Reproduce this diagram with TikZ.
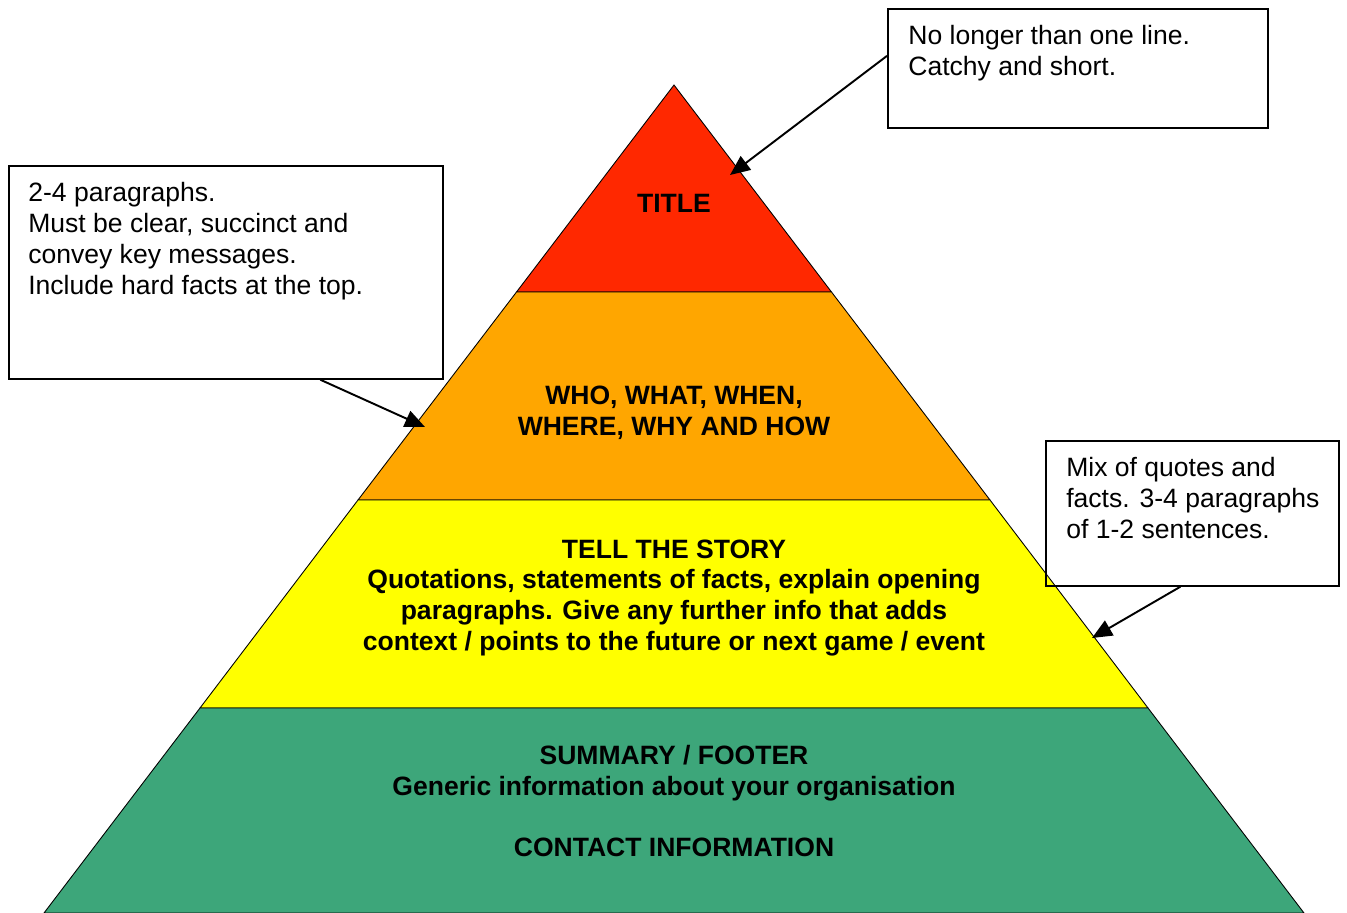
\documentclass[tikz,border=0pt]{standalone}
\usepackage{fontspec}
\setmainfont{Liberation Sans}
\usetikzlibrary{arrows.meta}
\usetikzlibrary{positioning}

\definecolor{titlered}{RGB}{255,40,0}
\definecolor{whoorange}{RGB}{255,166,0}
\definecolor{storyyellow}{RGB}{255,255,0}
\definecolor{footergreen}{RGB}{61,166,122}

\begin{document}
\begin{tikzpicture}[x=0.02cm, y=-0.02cm,
        layer/.style={draw=black, line width=0.5pt},
        notebox/.style={draw, line width=1pt, anchor=north west, inner sep=0pt},
        notetext/.style={anchor=north west, inner sep=0pt, align=left,
            font=\fontsize{15.1}{17.6}\selectfont},
        layertext/.style={align=center, inner sep=0pt,
            font=\fontsize{15.1}{17.6}\selectfont\bfseries},
        pointer/.style={-{Triangle[length=0.4cm, width=0.34cm]}, line width=1.1pt}]
            \useasboundingbox (0, 0) rectangle (1347, 913);

            %The four layers of the pyramid, top to bottom.
            \filldraw[layer, fill=titlered] (674, 85) -- (516.5, 292) -- (831.5, 292) -- cycle;
            \filldraw[layer, fill=whoorange] (516.5, 292) -- (358, 500) -- (990, 500) -- (831.5, 292) -- cycle;
            \filldraw[layer, fill=storyyellow] (358, 500) -- (200, 708) -- (1148, 708) -- (990, 500) -- cycle;
            \filldraw[layer, fill=footergreen] (200, 708) -- (44, 913) -- (1304, 913) -- (1148, 708) -- cycle;

            \node (title) at (674, 203) [layertext] {TITLE};
            \node (who) at (674, 413) [layertext] {WHO, WHAT, WHEN,\\WHERE, WHY AND HOW};
            \node (story) at (674, 598) [layertext] {TELL THE STORY\\Quotations, statements of facts, explain opening\\paragraphs. Give any further info that adds\\context / points to the future or next game / event};
            \node (footer) at (674, 801) [layertext] {SUMMARY / FOOTER\\Generic information about your organisation\\[17.6pt]CONTACT INFORMATION};

            %Notes beside the pyramid.
            \node (titlenote) at (887, 8) [notebox, minimum width=7.6cm, minimum height=2.38cm] {};
            \node (whonote) at (8, 165) [notebox, minimum width=8.68cm, minimum height=4.26cm] {};
            \node (storynote) at (1045, 440) [notebox, minimum width=5.86cm, minimum height=2.9cm] {};

            \node (titlenotetext) at (908, 25) [notetext] {No longer than one line.\\Catchy and short.};
            \node (whonotetext) at (28, 182) [notetext] {2-4 paragraphs.\\Must be clear, succinct and\\convey key messages.\\Include hard facts at the top.};
            \node (storynotetext) at (1066, 457) [notetext] {Mix of quotes and\\facts. 3-4 paragraphs\\of 1-2 sentences.};

            \coordinate (titletip) at (730, 175);
            \coordinate (whotip) at (425, 427);
            \coordinate (storytip) at (1092, 638);

            \draw[pointer] ([yshift=0.25cm]titlenote.west) to (titletip);
            \draw[pointer] ([xshift=1.89cm]whonote.south) to (whotip);
            \draw[pointer] ([xshift=-0.24cm]storynote.south) to (storytip);
\end{tikzpicture}
\end{document}
